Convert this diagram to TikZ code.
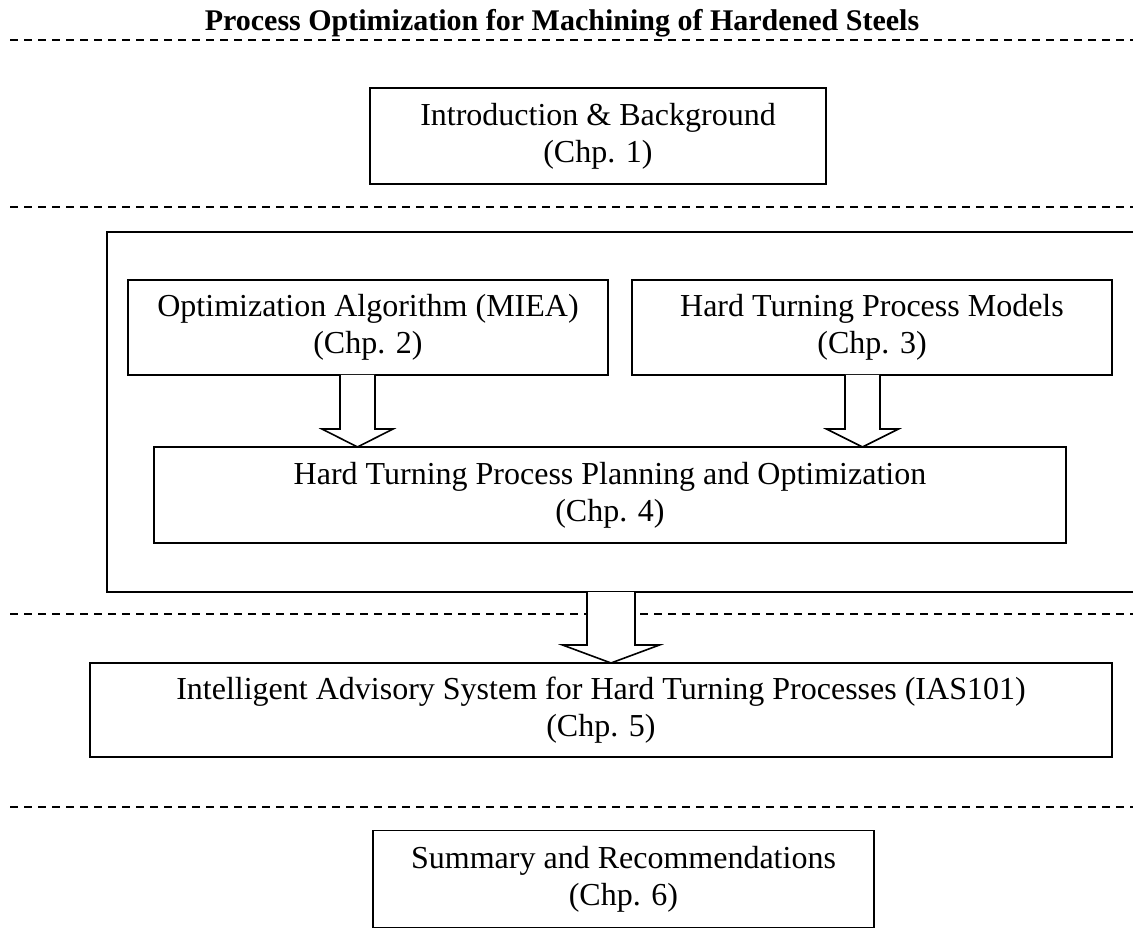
\documentclass[tikz,border=0pt]{standalone}
\usepackage{fontspec}
\setmainfont{Liberation Serif}
\usetikzlibrary{calc}
\tikzset{
  chapter/.style={draw, line width=1.6pt, outer sep=0pt, inner sep=0pt,
    align=center, font=\fontsize{32}{37}\selectfont},
  sectionrule/.style={line width=1.4pt, dash pattern=on 7.7pt off 6.3pt},
  hollow/.style={draw, fill=white, line width=1.6pt, line join=miter},
  grouprule/.style={line width=1.6pt},
}
% hollow block arrow: #1 start point, #2 end point, #3 x of the axis,
% #4 half shaft width, #5 half head width, #6 head length
\newcommand\hollowarrow[6]{%
  \path[hollow] let \p1=(#1), \p2=(#2) in
    ({#3pt-#4pt},\y1) -- ({#3pt-#4pt},{\y2+#6pt}) -- ({#3pt-#5pt},{\y2+#6pt})
    -- ({#3pt},\y2) -- ({#3pt+#5pt},{\y2+#6pt}) -- ({#3pt+#4pt},{\y2+#6pt})
    -- ({#3pt+#4pt},\y1);}
\begin{document}
\begin{tikzpicture}[x=1pt,y=-1pt]
\useasboundingbox (0,0) rectangle (1133,949);

% title
\node[anchor=base, font=\fontsize{30}{36}\selectfont\bfseries] (title) at (562,31)
  {Process Optimization for Machining of Hardened Steels};

% dashed separators
\foreach \yy in {40,207,614,807}
  \draw[sectionrule] (10,\yy) -- (1133,\yy);

% chapter 1
\node[chapter, minimum width=456pt, minimum height=96pt] (intro) at (598,136)
  {Introduction \& Background\\(Chp. 1)};

% group frame around chapters 2--4 (open on the right)
\draw[grouprule] (1133,232) -- (107,232) -- (107,592) -- (1133,592);
\coordinate (groupout) at (611,592);

\node[chapter, minimum width=480pt, minimum height=95pt] (algo) at (368,327.5)
  {Optimization Algorithm (MIEA)\\(Chp. 2)};
\node[chapter, minimum width=480pt, minimum height=95pt] (models) at (872,327.5)
  {Hard Turning Process Models\\(Chp. 3)};
\node[chapter, minimum width=912pt, minimum height=96pt] (plan) at (610,495)
  {Hard Turning Process Planning and Optimization\\(Chp. 4)};

% chapter 5 and 6
\node[chapter, minimum width=1022pt, minimum height=94pt] (advisor) at (601,710)
  {Intelligent Advisory System for Hard Turning Processes (IAS101)\\(Chp. 5)};
\node[chapter, minimum width=501pt, minimum height=97pt] (summary) at (623.5,879)
  {Summary and Recommendations\\(Chp. 6)};

% block arrows
\hollowarrow{algo.south}{plan.north}{357.5}{17.5}{35.5}{18}
\hollowarrow{models.south}{plan.north}{862.5}{17.5}{36}{18}
\hollowarrow{groupout}{advisor.north}{611}{24}{48.5}{18}
\end{tikzpicture}
\end{document}
